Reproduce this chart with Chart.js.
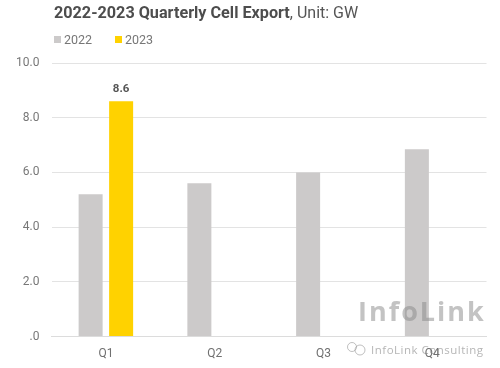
<!DOCTYPE html>
<html><head><meta charset="utf-8">
<style>html,body{margin:0;padding:0;background:#fff}#w{position:relative;width:500px;height:368px}</style>
<script src="https://cdn.jsdelivr.net/npm/chart.js@4"></script></head>
<body><div id="w"><canvas id="c" width="500" height="368"></canvas></div>
<script>
const categories = ["Q1","Q2","Q3","Q4"];
const series2022 = [5.2,5.6,6.0,6.85];
const series2023 = [8.6,null,null,null];
const seriesNames = ["2022","2023"];
const yTicks = [0,2,4,6,8,10];
const titleBold = "2022-2023 Quarterly Cell Export";
const titleRest = ", Unit: GW";
const wmBig = "InfoLink";
const wmSmall = "InfoLink Consulting";
const overlay = {
  id:"overlay",
  afterDraw(ch){
    const c=ch.ctx, ys=ch.scales.y;
    c.save();
    c.fillStyle="#4d4d4d"; c.font="bold 16.2px Roboto"; c.textBaseline="alphabetic"; c.textAlign="left";
    c.fillText(titleBold,54,18);
    const w=c.measureText(titleBold).width;
    c.font="16px Roboto"; c.fillStyle="#555"; c.fillText(titleRest,54+w,18);
    const meta=ch.getDatasetMeta(1).data[0];
    c.fillStyle="#555"; c.font="bold 11.5px Roboto"; c.textAlign="center";
    c.fillText(series2023[0].toFixed(1),meta.x,ys.getPixelForValue(series2023[0])-9);
    c.textAlign="left";
    c.fillStyle="rgba(135,135,135,.5)";
    c.font="bold 27px 'Open Sans'"; c.letterSpacing="2px";
    c.fillText(wmBig,358,321);
    c.letterSpacing="0.5px";
    c.fillStyle="rgba(120,120,120,.55)"; c.font="11.5px 'Open Sans'";
    c.fillText(wmSmall,371,354);
    c.letterSpacing="0px";
    c.strokeStyle="rgba(150,150,150,.6)"; c.lineWidth=1;
    c.beginPath(); c.arc(352,347,4.5,0,Math.PI*2); c.stroke();
    c.beginPath(); c.arc(360,350,5,0,Math.PI*2); c.stroke();
    c.restore();
  }
};
new Chart(document.getElementById("c"),{
  type:"bar",
  data:{labels:categories,datasets:[
    {label:seriesNames[0],data:series2022,backgroundColor:"#cccaca"},
    {label:seriesNames[1],data:series2023,backgroundColor:"#ffd200"}
  ]},
  options:{
    responsive:false,animation:false,
    datasets:{bar:{categoryPercentage:0.561,barPercentage:0.787}},
    layout:{padding:{left:0,right:13.5,top:63,bottom:0}},
    plugins:{
      title:{display:false},tooltip:{enabled:false},
      legend:{display:false}
    },
    scales:{
      x:{grid:{display:false,drawTicks:false},border:{color:"#dcdcdc"},
         afterFit(a){a.height=31.5;},
         ticks:{color:"#707070",font:{family:"Roboto",size:12},padding:10}},
      y:{min:0,max:10,afterBuildTicks(a){a.ticks=yTicks.map(v=>({value:v}));},
         afterFit(a){a.width=51.5;},
         grid:{color:"#e3e3e3",drawTicks:false},border:{display:false},
         ticks:{color:"#777",padding:12,font:{family:"Roboto",size:12},
           callback:v=>v===0?".0":v.toFixed(1)}}
    }
  },
  plugins:[overlay,{
    id:"lg",
    afterDraw(ch){
      const c=ch.ctx; c.save();
      c.textBaseline="middle"; c.textAlign="left"; c.font="12.5px Roboto";
      ch.data.datasets.forEach((d,i)=>{
        const x=54+i*61;
        c.fillStyle=d.backgroundColor; c.fillRect(x,36,7,7);
        c.fillStyle="#777"; c.fillText(d.label,x+10,41);
      });
      c.restore();
    }
  }]
});
</script></body></html>
